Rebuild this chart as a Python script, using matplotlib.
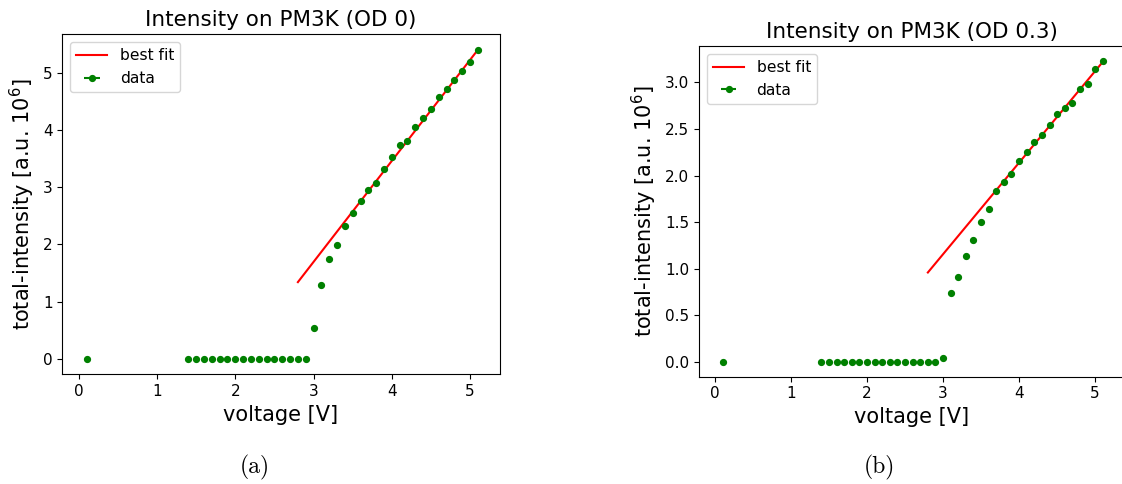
import numpy as np
import matplotlib
matplotlib.use("Agg")
import matplotlib.pyplot as plt

# voltage steps (same for both measurements)
voltage = [0.1, 1.4, 1.5, 1.6, 1.7, 1.8, 1.9, 2.0, 2.1, 2.2, 2.3, 2.4, 2.5, 2.6, 2.7, 2.8, 2.9,
           3.0, 3.1, 3.2, 3.3, 3.4, 3.5, 3.6, 3.7, 3.8, 3.9, 4.0, 4.1, 4.2, 4.3, 4.4, 4.5,
           4.6, 4.7, 4.8, 4.9, 5.0, 5.1]

# OD 0
intensity_od0 = [0] * 17 + [0.54, 1.29, 1.75, 1.99, 2.32, 2.55, 2.76, 2.95, 3.07, 3.32, 3.53,
                            3.74, 3.80, 4.05, 4.21, 4.36, 4.58, 4.72, 4.87, 5.03, 5.19, 5.39]
fit_x_od0 = [2.8, 5.1]
fit_y_od0 = [1.34, 5.40]

# OD 0.3
intensity_od03 = [0] * 16 + [0, 0.036, 0.733, 0.912, 1.133, 1.312, 1.50, 1.645, 1.834, 1.934, 2.02,
                             2.16, 2.25, 2.356, 2.435, 2.54, 2.66, 2.72, 2.78, 2.93, 2.98, 3.14, 3.23]
fit_x_od03 = [2.8, 5.1]
fit_y_od03 = [0.958, 3.22]


def make_panel(ax, x, y, fx, fy, od):
	ax.plot(fx, fy, color='red', label='best fit')
	ax.errorbar(x, y, xerr=0.001, fmt='o', markersize=4.2, color='green', label='data')
	ax.set_xlim(-0.21, 5.38)
	ax.set_title(f"Intensity on PM3K (OD {od})", fontsize=15.5)
	ax.set_xlabel("voltage [V]", fontsize=15)
	ax.set_ylabel("total-intensity [a.u. 10$^6$]", fontsize=15)
	ax.tick_params(labelsize=11)
	ax.legend(loc='upper left', fontsize=11.2)


fig = plt.figure(figsize=(11.22, 4.84), dpi=100)
ax1 = fig.add_axes([0.0555, 0.2267, 0.390, 0.7025])
ax2 = fig.add_axes([0.623, 0.2217, 0.3788, 0.6833])

make_panel(ax1, voltage, intensity_od0, fit_x_od0, fit_y_od0, "0")
make_panel(ax2, voltage, intensity_od03, fit_x_od03, fit_y_od03, "0.3")

fig.text(0.2275, 0.022, "(a)", fontsize=17, family='cmr10', ha='center')
fig.text(0.784, 0.022, "(b)", fontsize=17, family='cmr10', ha='center')

plt.savefig("out.png", dpi=100)
